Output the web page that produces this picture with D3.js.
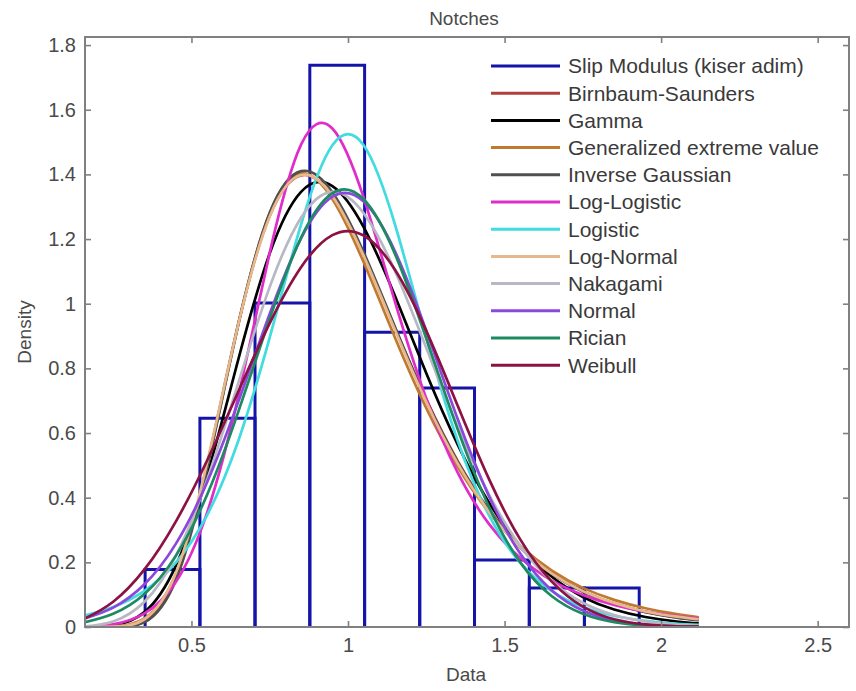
<!DOCTYPE html>
<html><head><meta charset="utf-8">
<script src="https://cdn.jsdelivr.net/npm/d3@7"></script>
<style>body{margin:0;background:#fff}text{font-family:"Liberation Sans",Arial,sans-serif}</style>
</head><body><svg id="c" width="856" height="691"></svg>
<script>
// ---- data ----
const binEdges = [0.352, 0.527, 0.703, 0.878, 1.053, 1.229, 1.404, 1.579, 1.755, 1.930];
const binDensity = [0.178, 0.646, 1.002, 1.738, 0.912, 0.739, 0.207, 0.121, 0.121];

const xGrid = [0.16,0.25,0.35,0.45,0.55,0.65,0.75,0.85,0.95,1.05,1.15,1.25,1.35,1.45,1.55,1.65,1.75,1.85,1.95,2.05,2.12];
const birnbaumSaunders = [0.000,0.000,0.017,0.154,0.502,0.940,1.272,1.397,1.333,1.152,0.925,0.704,0.514,0.363,0.249,0.168,0.111,0.073,0.047,0.030,0.022];
const gammaFit        = [0.000,0.005,0.046,0.189,0.468,0.829,1.156,1.346,1.364,1.237,1.024,0.785,0.565,0.385,0.250,0.156,0.093,0.054,0.031,0.017,0.011];
const gevFit          = [0.000,0.002,0.027,0.164,0.497,0.937,1.281,1.404,1.324,1.128,0.895,0.677,0.496,0.355,0.251,0.175,0.121,0.084,0.058,0.040,0.030];
const inverseGaussian = [0.000,0.000,0.015,0.145,0.491,0.938,1.281,1.410,1.345,1.159,0.928,0.703,0.511,0.359,0.246,0.165,0.109,0.071,0.046,0.029,0.021];
const logLogistic     = [0.001,0.008,0.042,0.139,0.354,0.715,1.158,1.492,1.542,1.328,1.006,0.707,0.478,0.319,0.214,0.144,0.099,0.068,0.048,0.034,0.027];
const logisticFit     = [0.036,0.062,0.112,0.199,0.346,0.577,0.896,1.245,1.490,1.490,1.245,0.896,0.577,0.346,0.199,0.112,0.062,0.034,0.019,0.010,0.007];
const logNormal       = [0.000,0.001,0.024,0.167,0.508,0.938,1.270,1.398,1.333,1.148,0.919,0.696,0.506,0.357,0.246,0.166,0.111,0.074,0.048,0.032,0.024];
const nakagami        = [0.002,0.017,0.078,0.220,0.456,0.756,1.052,1.266,1.346,1.280,1.101,0.863,0.620,0.410,0.251,0.142,0.075,0.037,0.017,0.007,0.004];
const normalFit       = [0.027,0.060,0.132,0.257,0.448,0.698,0.969,1.202,1.331,1.316,1.162,0.916,0.644,0.405,0.227,0.114,0.051,0.020,0.007,0.002,0.001];
const rician          = [0.015,0.041,0.102,0.220,0.409,0.667,0.954,1.204,1.342,1.323,1.154,0.892,0.612,0.372,0.200,0.096,0.041,0.015,0.005,0.002,0.001];
const weibull         = [0.026,0.078,0.178,0.326,0.515,0.729,0.940,1.113,1.212,1.211,1.105,0.916,0.685,0.458,0.271,0.141,0.063,0.024,0.008,0.002,0.001];

const seriesNames = ["Birnbaum-Saunders","Gamma","Generalized extreme value","Inverse Gaussian","Log-Logistic","Logistic","Log-Normal","Nakagami","Normal","Rician","Weibull"];
const seriesColors = ["#b0403c","#000000","#c07a30","#505050","#e02cc8","#40dce0","#e6b88c","#b8b8c4","#8a48dc","#1e8a62","#8c1244"];
const histName = "Slip Modulus (kiser adim)";
const histColor = "#1414a8";
const xTicks = [0.5, 1, 1.5, 2, 2.5];
const yTicks = [0, 0.2, 0.4, 0.6, 0.8, 1, 1.2, 1.4, 1.6, 1.8];
const titleText = "Notches", xLabel = "Data", yLabel = "Density";

// ---- drawing ----
const seriesValues = [birnbaumSaunders,gammaFit,gevFit,inverseGaussian,logLogistic,logisticFit,logNormal,nakagami,normalFit,rician,weibull];
const W = 856, H = 691;
const m = {left:85, right:849, top:37, bottom:627};
const x = d3.scaleLinear().domain([0.16, 2.6]).range([m.left, m.right]);
const y = d3.scaleLinear().domain([0, 1.825]).range([m.bottom, m.top]);
const svg = d3.select("#c");
svg.append("rect").attr("width", W).attr("height", H).attr("fill", "#fff");
svg.append("defs").append("clipPath").attr("id","clip").append("rect")
  .attr("x", m.left).attr("y", m.top).attr("width", m.right-m.left).attr("height", m.bottom-m.top);

const axisColor = "#808080", textColor = "#4a4a4a";

// histogram (outlined bars, open at the base)
const bins = binDensity.map((d,i)=>({x0:binEdges[i], x1:binEdges[i+1], v:d}));
svg.append("g").selectAll("path").data(bins).join("path")
  .attr("d", d=>`M${x(d.x0)},${y(0)}V${y(d.v)}H${x(d.x1)}V${y(0)}`)
  .attr("fill","none").attr("stroke", histColor).attr("stroke-width", 3);

// fitted curves
const line = d3.line().x((d,i)=>x(xGrid[i])).y(d=>y(d)).curve(d3.curveNatural);
const cg = svg.append("g").attr("clip-path","url(#clip)");
seriesValues.forEach((vals,i)=>{
  cg.append("path").attr("d", line(vals)).attr("fill","none")
    .attr("stroke", seriesColors[i]).attr("stroke-width", 2.7).attr("stroke-linejoin","round");
});

// axes
function styleAxis(g){
  g.select(".domain").remove();
  g.selectAll("line").attr("stroke", axisColor).attr("stroke-width", 1.6);
  g.selectAll("text").attr("fill", textColor).style("font-size","20px").style("font-family","'Liberation Sans',Arial,sans-serif");
}
svg.append("g").attr("transform",`translate(0,${m.bottom})`)
  .call(d3.axisBottom(x).tickValues(xTicks).tickSizeInner(-6).tickSizeOuter(0).tickPadding(11).tickFormat(d=>String(d)))
  .call(styleAxis);
svg.append("g").attr("transform",`translate(0,${m.top})`)
  .call(d3.axisTop(x).tickValues(xTicks).tickSizeInner(-6).tickSizeOuter(0).tickFormat(""))
  .call(styleAxis);
svg.append("g").attr("transform",`translate(${m.left},0)`)
  .call(d3.axisLeft(y).tickValues(yTicks).tickSizeInner(-6).tickSizeOuter(0).tickPadding(9).tickFormat(d=>String(d)))
  .call(styleAxis);
svg.append("g").attr("transform",`translate(${m.right},0)`)
  .call(d3.axisRight(y).tickValues(yTicks).tickSizeInner(-6).tickSizeOuter(0).tickFormat(""))
  .call(styleAxis);
svg.append("rect").attr("x", m.left).attr("y", m.top).attr("width", m.right-m.left).attr("height", m.bottom-m.top)
  .attr("fill","none").attr("stroke", axisColor).attr("stroke-width", 2);

// titles
svg.append("text").attr("x", 464).attr("y", 25).attr("text-anchor","middle")
  .attr("fill", textColor).style("font-size","19px").text(titleText);
svg.append("text").attr("x", 466).attr("y", 681).attr("text-anchor","middle")
  .attr("fill", textColor).style("font-size","19px").text(xLabel);
svg.append("text").attr("transform","translate(31,332) rotate(-90)").attr("text-anchor","middle")
  .attr("fill", textColor).style("font-size","19px").text(yLabel);

// legend
const legNames = [histName].concat(seriesNames);
const legColors = [histColor].concat(seriesColors);
const lg = svg.append("g");
legNames.forEach((n,i)=>{
  const yy = 66 + i*27.2;
  lg.append("line").attr("x1",491).attr("x2",560).attr("y1",yy).attr("y2",yy)
    .attr("stroke", legColors[i]).attr("stroke-width", 3);
  lg.append("text").attr("x",568).attr("y",yy).attr("dy","0.35em")
    .attr("fill","#3a3a3a").style("font-size","21px").text(n);
});
</script></body></html>
